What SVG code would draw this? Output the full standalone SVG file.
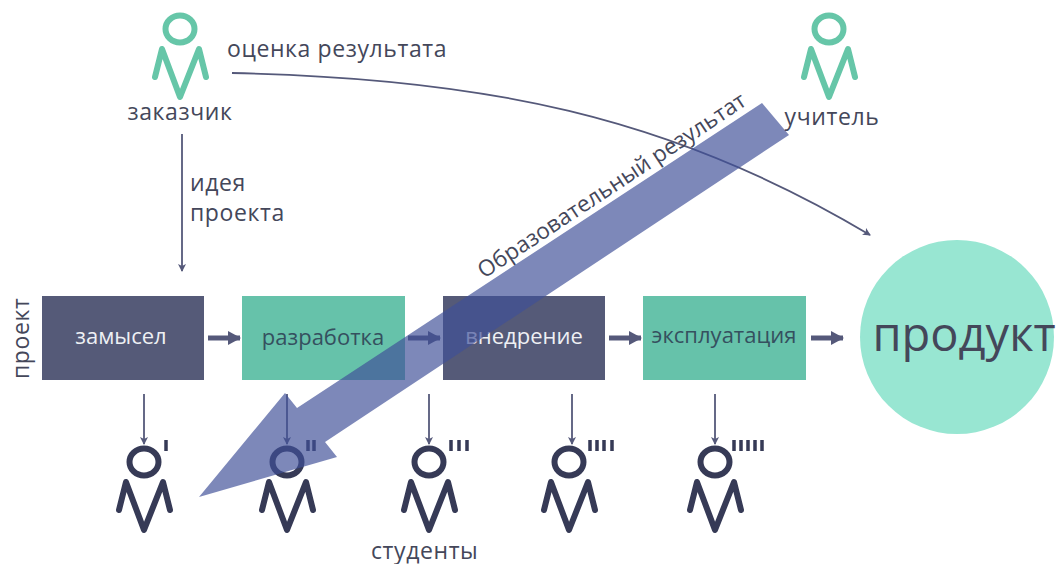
<svg xmlns="http://www.w3.org/2000/svg" width="1059" height="564" viewBox="0 0 1059 564">
<style>
text{font-family:"Open Sans","Noto Sans","Liberation Sans",sans-serif;fill:#44475a}
.t{font-size:23px;letter-spacing:.6px}
.b{font-size:22px;text-anchor:middle}
.w{fill:#eef0f4}
.g{fill:#35505f}
.body{fill:none;stroke-width:6;stroke-linecap:round;stroke-linejoin:round}
.tick{fill:none;stroke-width:3.5}
.dark{stroke:#363a56}
.green{stroke:#66c6a8}
.thin{fill:none;stroke:#55597a;stroke-width:1.8}
.thick{fill:none;stroke:#55597a;stroke-width:5}
</style>
<defs>
<g id="p"><ellipse cx="0" cy="0" rx="14.5" ry="13.5"/><path d="M-25 48L-18 20L0 68L19 20L26 48"/></g>
<marker id="a" markerWidth="9" markerHeight="9" refX="7" refY="4" orient="auto" markerUnits="userSpaceOnUse"><path d="M0 0L8 4L0 8L2 4Z" fill="#55597a"/></marker>
<marker id="h" markerWidth="14" markerHeight="16" refX="12" refY="8" orient="auto" markerUnits="userSpaceOnUse"><path d="M0 1L13 8L0 15Z" fill="#55597a"/></marker>
</defs>
<g id="product"><circle cx="957" cy="337" r="97" fill="#98e6d2"/><text x="964" y="351" font-size="47" text-anchor="middle">продукт</text></g>
<g id="customer"><use href="#p" x="180" y="29" class="body green"/><text class="t" x="180" y="120" text-anchor="middle">заказчик</text></g>
<g id="teacher"><use href="#p" x="829" y="29" class="body green"/><text class="t" x="832" y="125" text-anchor="middle">учитель</text></g>
<g id="box1"><rect x="42" y="296" width="162" height="84" fill="#555a78"/><text class="b w" x="121" y="344">замысел</text></g>
<g id="box2"><rect x="242" y="296" width="163" height="84" fill="#66c2aa"/><text class="b g" x="323" y="345">разработка</text></g>
<g id="box3"><rect x="443" y="296" width="162" height="84" fill="#555a78"/><text class="b w" x="524" y="344">внедрение</text></g>
<g id="box4"><rect x="643" y="296" width="163" height="84" fill="#66c2aa"/><text class="b g" x="724" y="343">эксплуатация</text></g>
<g id="students">
<g id="s1"><use href="#p" x="144" y="462" class="body dark"/><path d="M166 440V451" class="tick dark"/></g>
<g id="s2"><use href="#p" x="287" y="462" class="body dark"/><path d="M308 440V451M314 440V451" class="tick dark"/></g>
<g id="s3"><use href="#p" x="429" y="462" class="body dark"/><path d="M451 440V451M459 440V451M467 440V451" class="tick dark"/></g>
<g id="s4"><use href="#p" x="569" y="462" class="body dark"/><path d="M590 440V451M597 440V451M604 440V451M612 440V451" class="tick dark"/></g>
<g id="s5"><use href="#p" x="715" y="462" class="body dark"/><path d="M734 440V451M741 440V451M748 440V451M755 440V451M762 440V451" class="tick dark"/></g>
</g>
<g id="connectors">
<path class="thin" d="M182 134V271" marker-end="url(#a)"/>
<path class="thin" d="M232 73C480 78 670 115 870 235" marker-end="url(#a)"/>
<path class="thin" d="M144 394V444" marker-end="url(#a)"/>
<path class="thin" d="M287 394V444" marker-end="url(#a)"/>
<path class="thin" d="M429 394V444" marker-end="url(#a)"/>
<path class="thin" d="M572 394V444" marker-end="url(#a)"/>
<path class="thin" d="M715 394V444" marker-end="url(#a)"/>
<path class="thick" d="M208 338H240" marker-end="url(#h)"/>
<path class="thick" d="M408 338H440" marker-end="url(#h)"/>
<path class="thick" d="M609 338H641" marker-end="url(#h)"/>
<path class="thick" d="M811 338H843" marker-end="url(#h)"/>
</g>
<g id="labels">
<text class="t" x="227" y="57">оценка результата</text>
<text class="t" x="190" y="191">идея</text>
<text class="t" x="190" y="221">проекта</text>
<text class="t" transform="translate(29 379) rotate(-90)">проект</text>
<text class="t" x="371" y="559">студенты</text>
<text transform="translate(484 279) rotate(-33.5)" font-size="22.5">Образовательный результат</text>
</g>
<path id="big-arrow" d="M762 103L789 135L325 442L337 457L199 497L285 393L297 408Z" fill="#3f4f98" fill-opacity=".68"/>
</svg>
